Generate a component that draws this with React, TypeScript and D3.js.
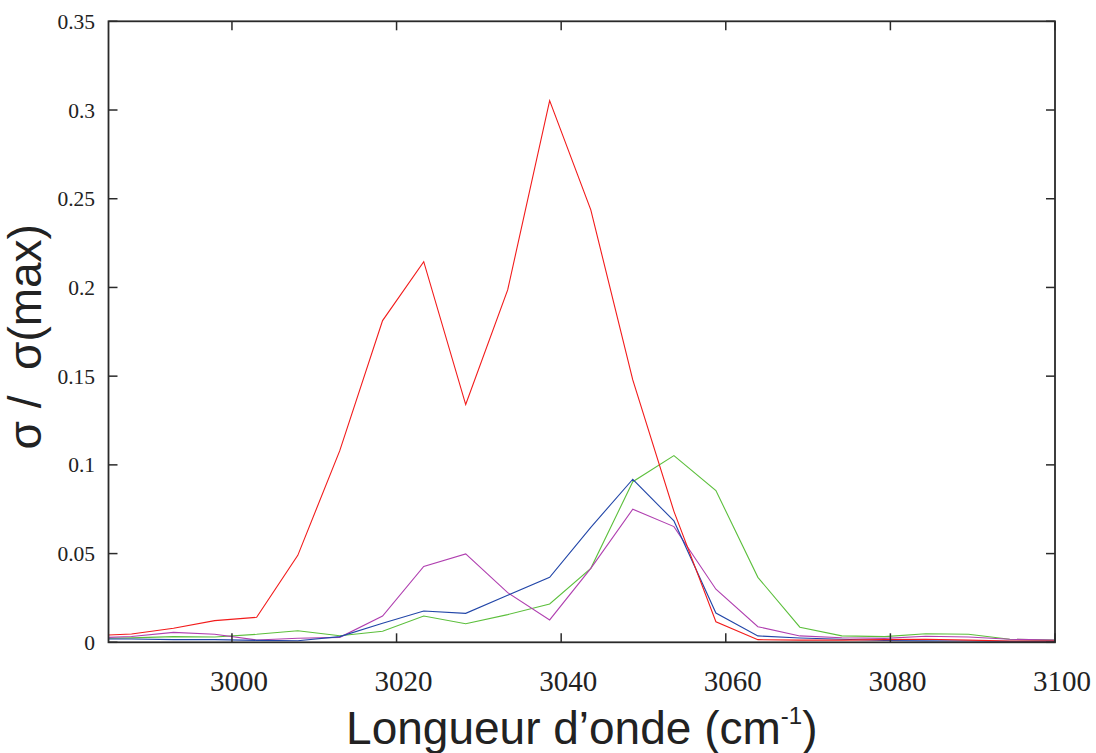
import React from "react";
import * as d3 from "d3";

const wavenumbers = [2985, 2987.8, 2992.9, 2997.9, 3003.0, 3008.0, 3013.1, 3018.3, 3023.3, 3028.4, 3033.5, 3038.6, 3043.6, 3048.7, 3053.7, 3058.8, 3063.9, 3069.0, 3074.1, 3079.3, 3084.3, 3089.5, 3094.5, 3100];
const redSeries = [0.0041, 0.0047, 0.0079, 0.0122, 0.0141, 0.049, 0.108, 0.1813, 0.2145, 0.134, 0.1986, 0.3053, 0.2437, 0.1479, 0.0738, 0.0116, 0.0015, 0.0012, 0.0012, 0.0015, 0.0017, 0.0012, 0.0007, 0.0007];
const blueSeries = [0.0019, 0.0019, 0.0015, 0.0015, 0.0011, 0.0009, 0.0032, 0.0107, 0.0176, 0.0163, 0.0265, 0.0366, 0.0648, 0.0919, 0.0684, 0.0165, 0.0036, 0.0024, 0.0017, 0.001, 0.0008, 0.0007, 0.0005, 0.0005];
const greenSeries = [0.0023, 0.0025, 0.0032, 0.003, 0.0045, 0.0065, 0.0037, 0.0062, 0.0148, 0.0105, 0.0156, 0.0216, 0.0417, 0.0905, 0.1052, 0.0855, 0.0366, 0.0085, 0.0036, 0.0032, 0.0048, 0.0045, 0.0017, 0.0012];
const purpleSeries = [0.0028, 0.0033, 0.0056, 0.0045, 0.0013, 0.0023, 0.0028, 0.0148, 0.0428, 0.0498, 0.028, 0.0126, 0.0417, 0.075, 0.0652, 0.0299, 0.0088, 0.0036, 0.0026, 0.0022, 0.0034, 0.003, 0.0017, 0.0012];

const xTicks = [3000, 3020, 3040, 3060, 3080, 3100];
const yTicks = [0, 0.05, 0.1, 0.15, 0.2, 0.25, 0.3, 0.35];
const yTickLabels = ["0", "0.05", "0.1", "0.15", "0.2", "0.25", "0.3", "0.35"];

const series = [
  { name: "green", values: greenSeries, color: "#5cbf3c" },
  { name: "purple", values: purpleSeries, color: "#b040b0" },
  { name: "blue", values: blueSeries, color: "#2246a8" },
  { name: "red", values: redSeries, color: "#f21b1b" },
];

const SERIF = "Liberation Serif, Times New Roman, serif";
const SANS = "Liberation Sans, Arial, Helvetica, sans-serif";

export default function App() {
  const W = 1096, H = 753;
  const left = 108.5, right = 1055, top = 21.3, bottom = 642.3;
  const x = d3.scaleLinear().domain([2985, 3100]).range([left, right]);
  const y = d3.scaleLinear().domain([0, 0.35]).range([bottom, top]);
  const tickLen = 9;
  const axisColor = "#2a2a2a";

  const line = (vals: number[]) =>
    d3.line<number>()
      .x((_, i) => x(wavenumbers[i]))
      .y((v) => y(v))(vals) || "";

  return (
    <svg width={W} height={H} style={{ position: "absolute", left: 0, top: 0, background: "#fff" }}>
      <defs>
        <clipPath id="plotclip">
          <rect x={left} y={top} width={right - left} height={bottom - top} />
        </clipPath>
      </defs>
      <rect x={0} y={0} width={W} height={H} fill="#fff" />
      <g clipPath="url(#plotclip)">
        {series.map((s) => (
          <path key={s.name} d={line(s.values)} fill="none" stroke={s.color} strokeWidth={1.1} />
        ))}
      </g>
      {xTicks.map((t) => (
        <g key={"xt" + t}>
          <line x1={x(t)} x2={x(t)} y1={bottom} y2={bottom - tickLen} stroke={axisColor} strokeWidth={1.5} />
          <line x1={x(t)} x2={x(t)} y1={top} y2={top + tickLen} stroke={axisColor} strokeWidth={1.5} />
          <text x={x(t) + 7} y={691} textAnchor="middle" style={{ fontFamily: SERIF }} fontSize={29} fill="#222">
            {t}
          </text>
        </g>
      ))}
      {yTicks.map((t, i) => (
        <g key={"yt" + t}>
          <line x1={left} x2={left + tickLen} y1={y(t)} y2={y(t)} stroke={axisColor} strokeWidth={1.5} />
          <line x1={right} x2={right - tickLen} y1={y(t)} y2={y(t)} stroke={axisColor} strokeWidth={1.5} />
          <text x={95} y={y(t) + 7.5} textAnchor="end" style={{ fontFamily: SERIF }} fontSize={21.5} fill="#222">
            {yTickLabels[i]}
          </text>
        </g>
      ))}
      <rect x={left} y={top} width={right - left} height={bottom - top} fill="none" stroke={axisColor} strokeWidth={1.8} />
      <text x={(left + right) / 2} y={744} textAnchor="middle" style={{ fontFamily: SANS }} fontSize={46} fill="#222">
        Longueur d’onde (cm<tspan fontSize={24} dy={-20}>-1</tspan><tspan dy={20}>)</tspan>
      </text>
      <text
        transform={`translate(41, ${(top + bottom) / 2 + 5}) rotate(-90)`}
        textAnchor="middle"
        style={{ fontFamily: SANS, whiteSpace: "pre" }}
        fontSize={46}
        fill="#222"
      >
        {"σ /  σ(max)"}
      </text>
    </svg>
  );
}
